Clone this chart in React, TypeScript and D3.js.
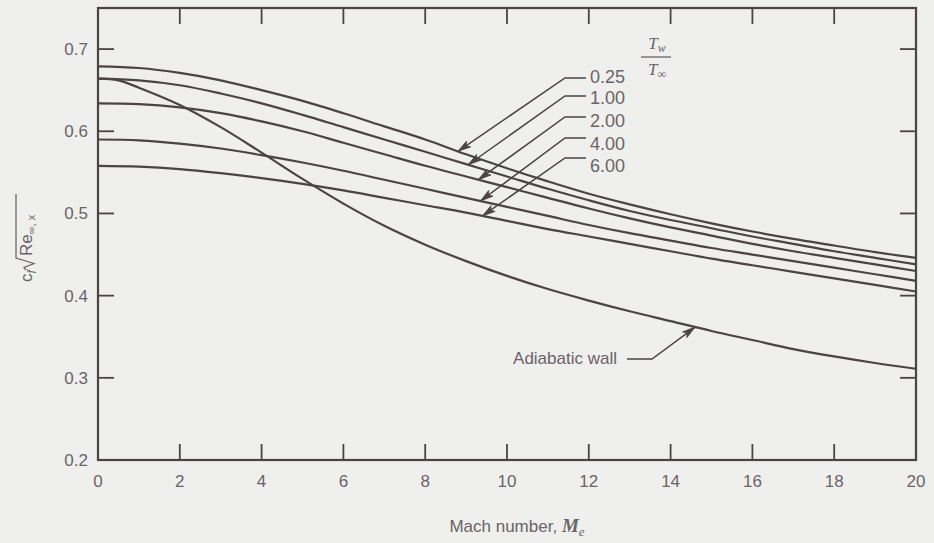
import React from "react";
import * as d3 from "d3";

// ---- data ----
const mach = [0, 1, 2, 3, 4, 5, 6, 7, 8, 9, 10, 11, 12, 13, 14, 15, 16, 17, 18, 19, 20];
const cfRatio025 = [0.679, 0.677, 0.671, 0.662, 0.650, 0.637, 0.622, 0.606, 0.590, 0.572, 0.555, 0.539, 0.524, 0.511, 0.499, 0.488, 0.478, 0.469, 0.461, 0.453, 0.446];
const cfRatio100 = [0.664, 0.662, 0.656, 0.646, 0.634, 0.620, 0.605, 0.590, 0.575, 0.560, 0.545, 0.530, 0.516, 0.503, 0.492, 0.482, 0.472, 0.463, 0.454, 0.446, 0.438];
const cfRatio200 = [0.634, 0.633, 0.629, 0.622, 0.612, 0.600, 0.586, 0.572, 0.558, 0.545, 0.532, 0.519, 0.506, 0.494, 0.483, 0.473, 0.463, 0.454, 0.446, 0.438, 0.430];
const cfRatio400 = [0.590, 0.589, 0.585, 0.579, 0.571, 0.562, 0.552, 0.541, 0.530, 0.519, 0.508, 0.497, 0.486, 0.476, 0.467, 0.458, 0.450, 0.442, 0.434, 0.426, 0.418];
const cfRatio600 = [0.558, 0.557, 0.554, 0.549, 0.543, 0.536, 0.528, 0.519, 0.510, 0.501, 0.491, 0.481, 0.472, 0.463, 0.454, 0.445, 0.437, 0.429, 0.421, 0.413, 0.405];
const adiabaticMach = [0, 0.5, 1, 2, 3, 4, 5, 6, 7, 8, 9, 10, 11, 12, 13, 14, 15, 16, 17, 18, 19, 20];
const cfAdiabatic = [0.664, 0.662, 0.653, 0.632, 0.605, 0.574, 0.542, 0.512, 0.485, 0.462, 0.442, 0.424, 0.408, 0.394, 0.381, 0.369, 0.357, 0.346, 0.335, 0.326, 0.318, 0.311];

const ratioLabels = ["0.25", "1.00", "2.00", "4.00", "6.00"];
const ratioSeries = [cfRatio025, cfRatio100, cfRatio200, cfRatio400, cfRatio600];
const ratioArrowMach = [8.8, 9.05, 9.3, 9.35, 9.4];
const adiabaticLabel = "Adiabatic wall";
const adiabaticArrowMach = 14.6;

const xTicks = [0, 2, 4, 6, 8, 10, 12, 14, 16, 18, 20];
const yTicks = [0.2, 0.3, 0.4, 0.5, 0.6, 0.7];

// ---- layout ----
const W = 934;
const H = 543;
const left = 98, right = 916, top = 8, bottom = 460;
const INK = "#4b4446";
const TXT = "#6a6466";
const SANS = "'Liberation Sans', Arial, sans-serif";
const SERIF = "'Liberation Serif', 'DejaVu Serif', serif";

const x = d3.scaleLinear().domain([0, 20]).range([left, right]);
const y = d3.scaleLinear().domain([0.2, 0.75]).range([bottom, top]);

const line = d3
  .line<[number, number]>()
  .x((d) => x(d[0]))
  .y((d) => y(d[1]))
  .curve(d3.curveCatmullRom.alpha(0.5));

function valueAt(ms: number[], vs: number[], m: number) {
  return d3.scaleLinear().domain(ms).range(vs)(m);
}

function Arrow({ pts }: { pts: [number, number][] }) {
  const n = pts.length;
  const [tx, ty] = pts[n - 1];
  const [px, py] = pts[n - 2];
  const dx = tx - px, dy = ty - py;
  const len = Math.hypot(dx, dy);
  const ux = dx / len, uy = dy / len;
  const L = 13, Wd = 3.6;
  const bx = tx - ux * L, by = ty - uy * L;
  const head = `M${tx},${ty} L${bx - uy * Wd},${by + ux * Wd} L${bx + ux * 3},${by + uy * 3} L${bx + uy * Wd},${by - ux * Wd} Z`;
  const d = pts.map((p, i) => `${i ? "L" : "M"}${p[0]},${p[1]}`).join(" ");
  return (
    <g>
      <path d={d} fill="none" stroke={INK} strokeWidth={1.5} />
      <path d={head} fill={INK} stroke={INK} strokeWidth={0.8} />
    </g>
  );
}

export default function App() {
  const ratioLeaderY = [78, 96, 117, 138, 158];
  const ratioTextY = [83, 104, 127, 150, 172];
  return (
    <svg
      width={W}
      height={H}
      viewBox={`0 0 ${W} ${H}`}
      style={{ position: "absolute", left: 0, top: 0, background: "#efefed" }}
    >
      <rect x={0} y={0} width={W} height={H} fill="#efefed" />

      {/* curves */}
      {ratioSeries.map((s, i) => (
        <path
          key={ratioLabels[i]}
          d={line(mach.map((m, j) => [m, s[j]]) as [number, number][]) || ""}
          fill="none"
          stroke={INK}
          strokeWidth={2.2}
        />
      ))}
      <path
        d={line(adiabaticMach.map((m, j) => [m, cfAdiabatic[j]]) as [number, number][]) || ""}
        fill="none"
        stroke={INK}
        strokeWidth={2.2}
      />

      {/* frame */}
      <rect x={left} y={top} width={right - left} height={bottom - top} fill="none" stroke={INK} strokeWidth={2.2} />

      {/* ticks */}
      {xTicks.filter((t) => t > 0 && t < 20).map((t) => (
        <g key={"xt" + t}>
          <line x1={x(t)} x2={x(t)} y1={bottom} y2={bottom - 16} stroke={INK} strokeWidth={1.8} />
          <line x1={x(t)} x2={x(t)} y1={top} y2={top + 16} stroke={INK} strokeWidth={1.8} />
        </g>
      ))}
      {yTicks.filter((t) => t > 0.2).map((t) => (
        <g key={"yt" + t}>
          <line x1={left} x2={left + 16} y1={y(t)} y2={y(t)} stroke={INK} strokeWidth={1.8} />
          <line x1={right} x2={right - 16} y1={y(t)} y2={y(t)} stroke={INK} strokeWidth={1.8} />
        </g>
      ))}

      {/* tick labels */}
      {xTicks.map((t) => (
        <text key={"xl" + t} x={x(t)} y={487} textAnchor="middle" fontFamily={SANS} fontSize={17} fill={TXT}>
          {t}
        </text>
      ))}
      {yTicks.map((t) => (
        <text key={"yl" + t} x={88} y={y(t) + 6} textAnchor="end" fontFamily={SANS} fontSize={17} fill={TXT}>
          {t.toFixed(1)}
        </text>
      ))}

      {/* x axis title */}
      <text x={517} y={532} textAnchor="middle" fontFamily={SANS} fontSize={17} fill={TXT}>
        Mach number,{" "}
        <tspan fontFamily={SERIF} fontStyle="italic" fontWeight="bold" fontSize={19}>M</tspan>
        <tspan fontFamily={SERIF} fontStyle="italic" fontSize={13} dy={4}>e</tspan>
      </text>

      {/* y axis title */}
      <g transform="translate(32,238) rotate(-90)">
        <text x={-44} y={0} fontFamily={SANS} fontSize={17} fill={TXT}>
          c<tspan fontSize={12} fontStyle="italic" dy={4}>f</tspan>
        </text>
        <path d="M-32,-6 L-29.5,-8 L-25.5,2 L-20,-16 L44,-16" fill="none" stroke={TXT} strokeWidth={1.3} />
        <text x={-18} y={0} fontFamily={SANS} fontSize={17} fill={TXT}>
          Re<tspan fontSize={11} dy={3}>∞, x</tspan>
        </text>
      </g>

      {/* legend title Tw / T∞ */}
      <text x={657} y={49} textAnchor="middle" fontFamily={SERIF} fontStyle="italic" fontSize={17} fill={TXT}>
        T<tspan fontSize={12} dy={3}>w</tspan>
      </text>
      <line x1={641} x2={671} y1={57} y2={57} stroke={TXT} strokeWidth={1.3} />
      <text x={657} y={75} textAnchor="middle" fontFamily={SERIF} fontStyle="italic" fontSize={17} fill={TXT}>
        T<tspan fontSize={12} dy={3}>∞</tspan>
      </text>

      {/* ratio labels with leaders */}
      {ratioLabels.map((lab, i) => {
        const m = ratioArrowMach[i];
        const tip: [number, number] = [x(m), y(valueAt(mach, ratioSeries[i], m))];
        const ly = ratioLeaderY[i];
        return (
          <g key={"lab" + lab}>
            <Arrow pts={[[586, ly], [565, ly], tip]} />
            <text x={590} y={ratioTextY[i]} fontFamily={SANS} fontSize={18} fill={TXT}>
              {lab}
            </text>
          </g>
        );
      })}

      {/* adiabatic label */}
      {(() => {
        const tip: [number, number] = [x(adiabaticArrowMach), y(valueAt(adiabaticMach, cfAdiabatic, adiabaticArrowMach))];
        return (
          <g>
            <Arrow pts={[[627, 359], [652, 359], tip]} />
            <text x={617} y={364} textAnchor="end" fontFamily={SANS} fontSize={17} fill={TXT}>
              {adiabaticLabel}
            </text>
          </g>
        );
      })()}
    </svg>
  );
}
